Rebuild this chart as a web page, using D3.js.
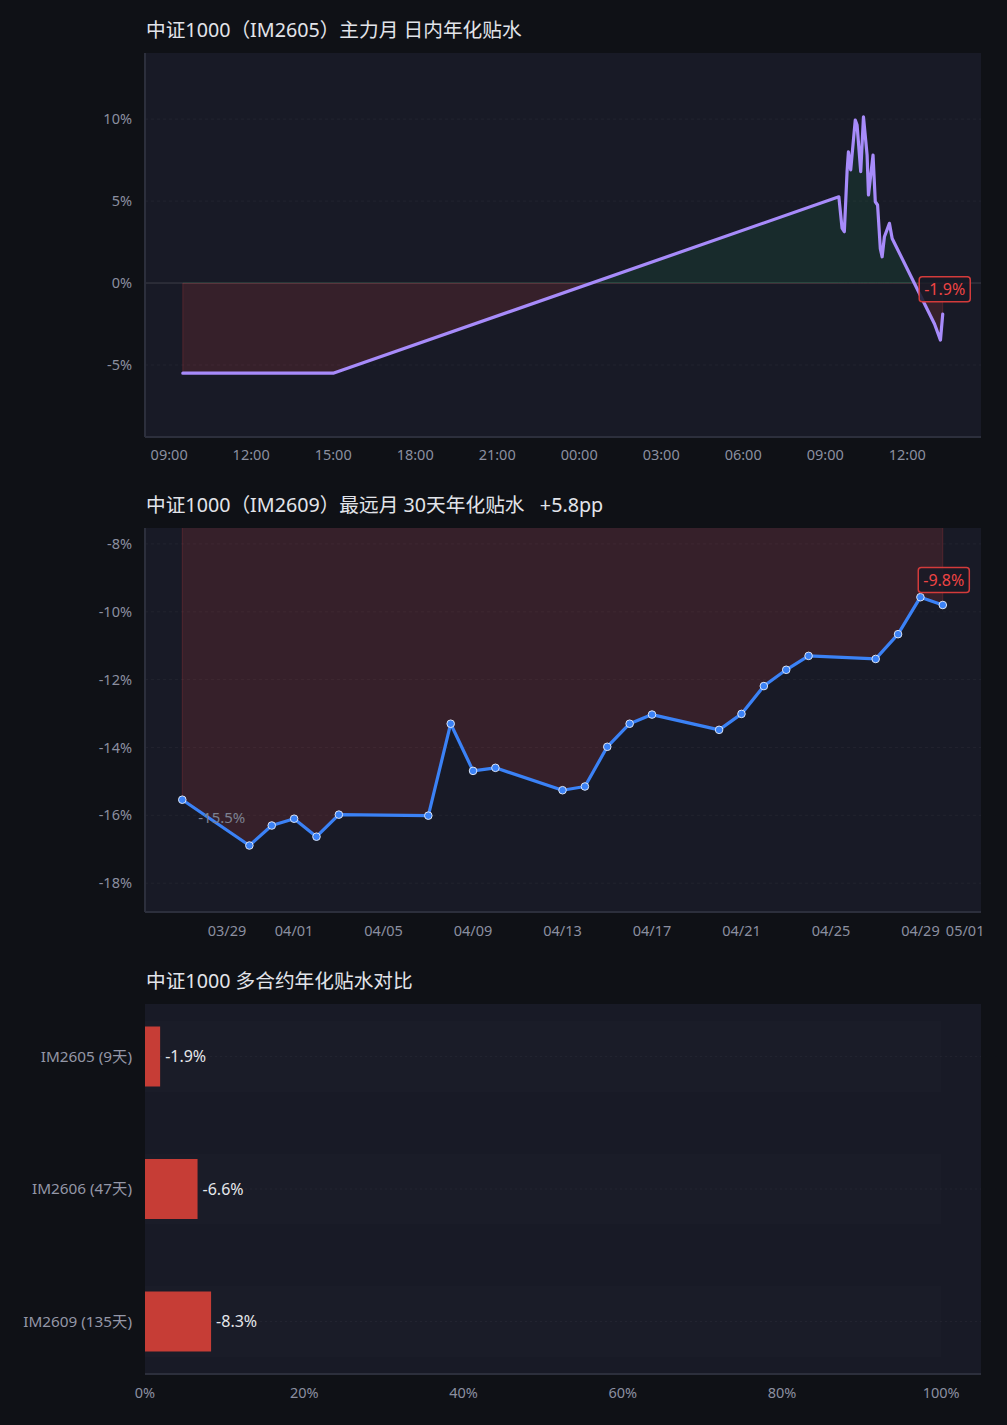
<!DOCTYPE html>
<html>
<head>
<meta charset="utf-8">
<script src="https://cdn.jsdelivr.net/npm/d3@7"></script>
<style>
  body { margin: 0; background: #0f1116; }
  svg text { font-family: "Noto Sans", "Noto Sans CJK SC", sans-serif; white-space: pre; }
</style>
</head>
<body>
<svg id="chart" width="1007" height="1425"></svg>
<script>
// intraday annualised basis, main contract IM2605
const introTimes = [
  '04-29 09:30', '04-29 15:00',
  '04-30 09:30', '04-30 09:37', '04-30 09:42', '04-30 09:48', '04-30 09:51', '04-30 09:56',
  '04-30 10:06', '04-30 10:10', '04-30 10:18', '04-30 10:24', '04-30 10:32', '04-30 10:35',
  '04-30 10:45', '04-30 10:50', '04-30 10:55', '04-30 11:01', '04-30 11:05', '04-30 11:10',
  '04-30 11:21', '04-30 11:27', '04-30 13:00', '04-30 13:13', '04-30 13:18'
]
const introValues = [
  -5.5, -5.5,
  5.26, 3.35, 3.13, 6.79, 8.0, 6.9,
  9.94, 9.63, 6.79, 10.14, 7.8, 5.37,
  7.8, 4.96, 4.76, 2.1, 1.6, 2.82,
  3.64, 2.72, -2.5, -3.48, -1.9
]
const introTicks = [10, 5, 0, -5]

// 30-day annualised basis, far contract IM2609
const farDates = [
  '03-27', '03-30', '03-31', '04-01', '04-02', '04-03', '04-07', '04-08', '04-09', '04-10',
  '04-13', '04-14', '04-15', '04-16', '04-17', '04-20', '04-21', '04-22', '04-23', '04-24',
  '04-27', '04-28', '04-29', '04-30'
]
const farValues = [
  -15.54, -16.89, -16.30, -16.10, -16.63, -15.98, -16.01, -13.30, -14.69, -14.60,
  -15.26, -15.15, -13.98, -13.30, -13.03, -13.48, -13.01, -12.19, -11.71, -11.30,
  -11.39, -10.66, -9.57, -9.80
]
const farTicks = [-8, -10, -12, -14, -16, -18]

// contracts comparison
const contracts = ['IM2605 (9天)', 'IM2606 (47天)', 'IM2609 (135天)']
const contractValues = [-1.9, -6.6, -8.3]
const pctTicks = [0, 20, 40, 60, 80, 100]

const W = 1007
const plotL = 145
const plotR = 981
const tickColor = '#8b8fa0'
const axisColor = '#2c2f3c'
const red = '#ef4444'

const svg = d3.select('#chart')
svg.append('rect').attr('width', W).attr('height', 1425).attr('fill', '#0f1116')
const defs = svg.append('defs')

const parseT = d3.timeParse('%Y-%m-%d %H:%M')
const parseD = d3.timeParse('%Y-%m-%d')
const pct = d => d + '%'

function frame(top, bottom, title) {
  svg.append('text')
    .attr('x', 146).attr('y', top - 23).attr('dy', '0.35em')
    .attr('fill', '#e2e4ea').attr('font-size', 19.7)
    .text(title)
  svg.append('rect')
    .attr('x', plotL).attr('y', top)
    .attr('width', plotR - plotL).attr('height', bottom - top)
    .attr('fill', '#181a26')
}

function clip(id, x, y, w, h) {
  defs.append('clipPath').attr('id', id)
    .append('rect').attr('x', x).attr('y', y).attr('width', w).attr('height', h)
}

function tag(cx, cy, text) {
  const g = svg.append('g')
  const r = g.append('rect')
  const t = g.append('text')
    .attr('x', cx).attr('y', cy).attr('dy', '0.35em')
    .attr('text-anchor', 'middle')
    .attr('fill', red).attr('font-size', 16)
    .text(text)
  const bb = t.node().getBBox()
  r.attr('x', bb.x - 5).attr('y', cy - 12.5)
    .attr('width', bb.width + 10).attr('height', 25)
    .attr('rx', 3)
    .attr('fill', 'rgba(24,26,38,0.85)')
    .attr('stroke', '#d33b3b').attr('stroke-width', 1.5)
}

function yAxisLabels(y, ticks) {
  svg.append('g').selectAll('text').data(ticks).join('text')
    .attr('x', 132).attr('y', d => y(d)).attr('dy', '0.35em')
    .attr('text-anchor', 'end').attr('fill', tickColor).attr('font-size', 14.5)
    .text(pct)
}

function gridLines(y, ticks) {
  svg.append('g').selectAll('line').data(ticks).join('line')
    .attr('x1', plotL).attr('x2', plotR)
    .attr('y1', d => y(d)).attr('y2', d => y(d))
    .attr('stroke', 'rgba(255,255,255,0.045)')
    .attr('stroke-dasharray', '3,3')
}

function axisFrame(top, bottom, leftLine) {
  if (leftLine) {
    svg.append('line').attr('x1', plotL).attr('x2', plotL)
      .attr('y1', top).attr('y2', bottom)
      .attr('stroke', axisColor).attr('stroke-width', 2)
  }
  svg.append('line').attr('x1', plotL).attr('x2', plotR)
    .attr('y1', bottom).attr('y2', bottom)
    .attr('stroke', axisColor).attr('stroke-width', 2)
}

// ---------- chart 1 ----------
{
  const top = 53, bottom = 437
  frame(top, bottom, '中证1000（IM2605）主力月 日内年化贴水')

  const data = introTimes.map((t, i) => ({ t: parseT('2026-' + t), v: introValues[i] }))
  const x = d3.scaleTime()
    .domain([parseT('2026-04-29 08:07'), parseT('2026-04-30 14:42')])
    .range([plotL, plotR])
  const y = d3.scaleLinear().domain([-9.39, 14.03]).range([bottom, top])

  gridLines(y, introTicks.filter(d => d !== 0))

  clip('c1pos', plotL, top, plotR - plotL, y(0) - top)
  clip('c1neg', plotL, y(0), plotR - plotL, bottom - y(0))

  const area = d3.area().x(d => x(d.t)).y0(y(0)).y1(d => y(d.v))
  svg.append('path').datum(data).attr('d', area)
    .attr('clip-path', 'url(#c1pos)')
    .attr('fill', 'rgba(34,197,94,0.1)')
    .attr('stroke', 'rgba(34,197,94,0.2)')
  svg.append('path').datum(data).attr('d', area)
    .attr('clip-path', 'url(#c1neg)')
    .attr('fill', 'rgba(239,68,68,0.14)')
    .attr('stroke', 'rgba(239,68,68,0.2)')

  svg.append('line').attr('x1', plotL).attr('x2', plotR)
    .attr('y1', y(0)).attr('y2', y(0))
    .attr('stroke', 'rgba(255,255,255,0.16)')

  svg.append('path').datum(data)
    .attr('d', d3.line().x(d => x(d.t)).y(d => y(d.v)))
    .attr('fill', 'none').attr('stroke', '#a78bfa')
    .attr('stroke-width', 3.2).attr('stroke-linejoin', 'round').attr('stroke-linecap', 'round')

  axisFrame(top, bottom, true)
  yAxisLabels(y, introTicks)

  svg.append('g').selectAll('text')
    .data(x.ticks(d3.timeHour.every(3)))
    .join('text')
    .attr('x', d => x(d)).attr('y', bottom + 18).attr('dy', '0.35em')
    .attr('text-anchor', 'middle').attr('fill', tickColor).attr('font-size', 14.5)
    .text(d3.timeFormat('%H:%M'))

  const last = data[data.length - 1]
  tag(x(last.t) + 2, y(last.v) - 25, last.v.toFixed(1) + '%')
}

// ---------- chart 2 ----------
{
  const top = 528, bottom = 912
  frame(top, bottom, '中证1000（IM2609）最远月 30天年化贴水   +5.8pp')

  const data = farDates.map((d, i) => ({ t: parseD('2026-' + d), v: farValues[i] }))
  const x = d3.scaleTime()
    .domain([parseT('2026-03-25 08:00'), parseT('2026-05-01 17:00')])
    .range([plotL, plotR])
  const y = d3.scaleLinear().domain([-18.85, -7.53]).range([bottom, top])

  gridLines(y, farTicks)

  clip('c2', plotL, top, plotR - plotL, bottom - top)
  svg.append('path').datum(data)
    .attr('d', d3.area().x(d => x(d.t)).y0(y(0)).y1(d => y(d.v)))
    .attr('clip-path', 'url(#c2)')
    .attr('fill', 'rgba(239,68,68,0.14)')
    .attr('stroke', 'rgba(239,68,68,0.2)')

  svg.append('path').datum(data)
    .attr('d', d3.line().x(d => x(d.t)).y(d => y(d.v)))
    .attr('fill', 'none').attr('stroke', '#3b82f6')
    .attr('stroke-width', 3.2).attr('stroke-linejoin', 'round')

  svg.append('g').selectAll('circle').data(data).join('circle')
    .attr('cx', d => x(d.t)).attr('cy', d => y(d.v)).attr('r', 3.8)
    .attr('fill', '#3b82f6').attr('stroke', '#dbe4f5').attr('stroke-width', 1)

  axisFrame(top, bottom, true)
  yAxisLabels(y, farTicks)

  svg.append('g').selectAll('text')
    .data(x.ticks(d3.timeDay.every(4)))
    .join('text')
    .attr('x', d => x(d)).attr('y', bottom + 19).attr('dy', '0.35em')
    .attr('text-anchor', 'middle').attr('fill', tickColor).attr('font-size', 14.5)
    .text(d3.timeFormat('%m/%d'))

  const first = data[0]
  svg.append('text')
    .attr('x', x(first.t) + 16).attr('y', y(first.v) + 18).attr('dy', '0.35em')
    .attr('fill', '#7c8090').attr('font-size', 15)
    .text(first.v.toFixed(1) + '%')

  const last = data[data.length - 1]
  tag(x(last.t) + 1, y(last.v) - 25, last.v.toFixed(1) + '%')
}

// ---------- chart 3 ----------
{
  const top = 1004, bottom = 1374
  frame(top, bottom, '中证1000 多合约年化贴水对比')

  const x = d3.scaleLinear().domain([0, 105]).range([plotL, plotR])
  const y = d3.scalePoint().domain(contracts).range([1056.5, 1321.5])
  const barH = 60
  const bgH = 71

  svg.append('g').selectAll('rect').data(contracts).join('rect')
    .attr('x', x(0)).attr('y', d => y(d) - bgH / 2)
    .attr('width', x(100) - x(0)).attr('height', bgH)
    .attr('fill', 'rgba(255,255,255,0.012)')

  svg.append('g').selectAll('line').data(contracts).join('line')
    .attr('x1', plotL).attr('x2', plotR)
    .attr('y1', d => y(d)).attr('y2', d => y(d))
    .attr('stroke', 'rgba(255,255,255,0.04)')
    .attr('stroke-dasharray', '2,3')

  svg.append('g').selectAll('rect').data(contracts).join('rect')
    .attr('x', x(0)).attr('y', d => y(d) - barH / 2)
    .attr('width', (d, i) => x(Math.abs(contractValues[i])) - x(0))
    .attr('height', barH)
    .attr('fill', '#c63d36')

  svg.append('g').selectAll('text').data(contracts).join('text')
    .attr('x', (d, i) => x(Math.abs(contractValues[i])) + 5)
    .attr('y', d => y(d)).attr('dy', '0.35em')
    .attr('fill', '#e5e7eb').attr('font-size', 16)
    .text((d, i) => contractValues[i].toFixed(1) + '%')

  svg.append('g').selectAll('text').data(contracts).join('text')
    .attr('x', 132).attr('y', d => y(d)).attr('dy', '0.35em')
    .attr('text-anchor', 'end').attr('fill', '#9497a7').attr('font-size', 15.3)
    .text(d => d)

  axisFrame(top, bottom, false)

  svg.append('g').selectAll('text').data(pctTicks).join('text')
    .attr('x', d => x(d)).attr('y', bottom + 19).attr('dy', '0.35em')
    .attr('text-anchor', 'middle').attr('fill', tickColor).attr('font-size', 14.5)
    .text(pct)
}
</script>
</body>
</html>
